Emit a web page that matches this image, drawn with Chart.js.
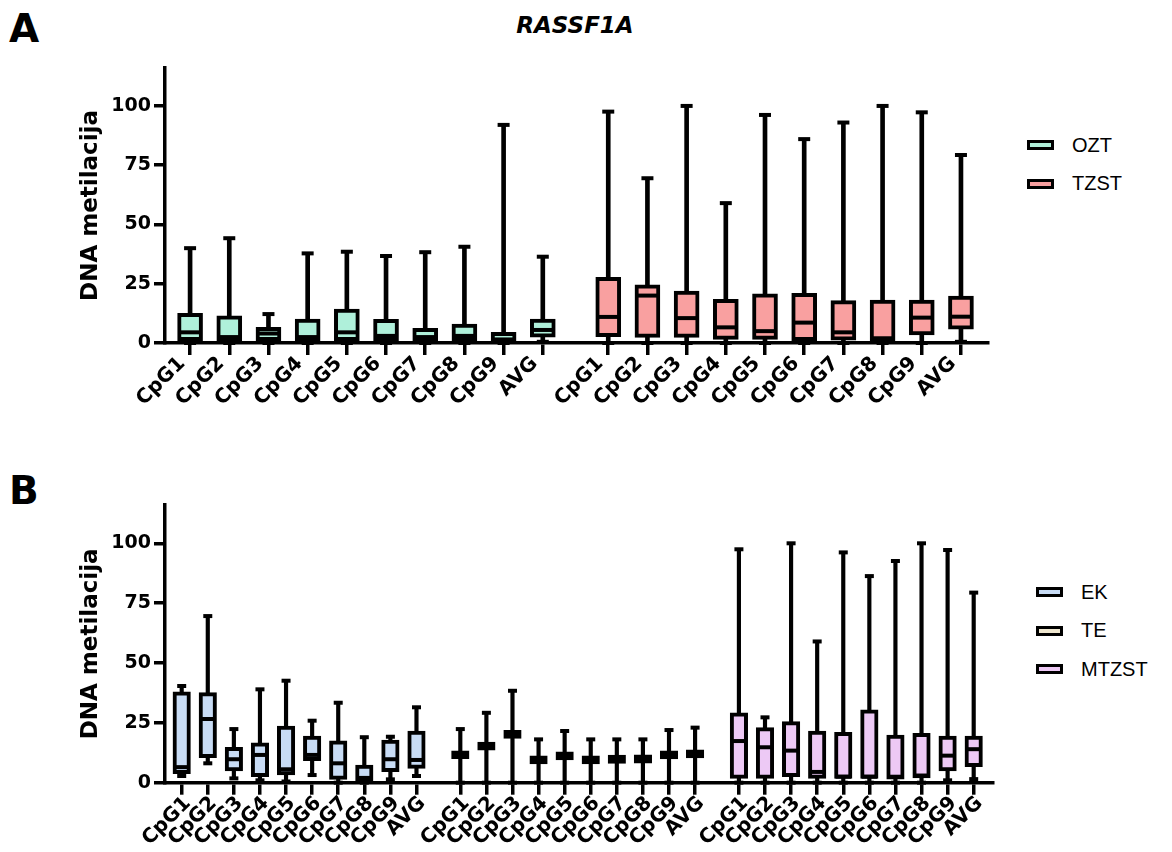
<!DOCTYPE html>
<html>
<head>
<meta charset="utf-8">
<script src="https://cdn.jsdelivr.net/npm/chart.js@4.4.0/dist/chart.umd.min.js"></script>
<style>
  body { margin: 0; background: #fff; width: 1172px; height: 852px; position: relative; overflow: hidden;
         font-family: "Liberation Sans", Arial, sans-serif; color: #000; }
  .wrap { position: absolute; left: 0; width: 1010px; }
  #wrapA { top: 0; height: 430px; }
  #wrapB { top: 430px; height: 422px; }
  .letter { position: absolute; left: 9px; font-family: "DejaVu Sans", sans-serif; font-weight: bold; font-size: 39px; }
  #title { position: absolute; left: 475px; top: 12px; width: 200px; text-align: center;
           font-family: "DejaVu Sans", sans-serif; font-weight: bold; font-style: italic; font-size: 23px; }
  .legend { position: absolute; }
  .item { display: flex; align-items: center; height: 38.5px; font-size: 20px; }
  .swatch { width: 21px; height: 4px; border: 3.5px solid #000; margin-right: 18px; }
</style>
</head>
<body>
<div class="letter" style="top:6px">A</div>
<div class="letter" style="top:468px">B</div>
<div id="title">RASSF1A</div>
<div class="wrap" id="wrapA"><canvas id="chartA"></canvas></div>
<div class="wrap" id="wrapB"><canvas id="chartB"></canvas></div>
<div class="legend" id="legendA" style="left:1027px; top:126px"></div>
<div class="legend" id="legendB" style="left:1036px; top:573px"></div>
<script>
// categories (same for every group)
const cpgLabels = ['CpG1', 'CpG2', 'CpG3', 'CpG4', 'CpG5', 'CpG6', 'CpG7', 'CpG8', 'CpG9', 'AVG'];
const yTicks = [0, 25, 50, 75, 100];

// Panel A - OZT (min, Q1, median, Q3, max)
const oztMin = [0, 0, 0, 0, 0, 0, 0, 0, 0, 0.5];
const oztQ1  = [1, 1, 1, 1, 1, 1, 0.5, 1, 0.5, 2.5];
const oztMed = [4.5, 2.5, 4, 2.5, 4.5, 3, 2.5, 3, 1.5, 5.5];
const oztQ3  = [12.5, 11.5, 6.6, 10.1, 14.3, 10, 6.2, 8, 4.5, 10.1];
const oztMax = [40, 44.2, 12.2, 37.8, 38.5, 36.7, 38.3, 40.6, 92, 36.4];

// Panel A - TZST
const tzstMin = [0, 0, 0, 0, 0, 0, 0, 0, 0, 0.5];
const tzstQ1  = [2.7, 2.4, 2.4, 1.5, 1.5, 1, 1.2, 1, 3.4, 5.8];
const tzstMed = [11, 20, 10.5, 6.6, 5, 8.6, 4.5, 2, 10.7, 11.1];
const tzstQ3  = [27.7, 24.5, 21.9, 18.4, 20.7, 21, 17.9, 18.1, 18.1, 19.8];
const tzstMax = [97.6, 69.5, 100, 59, 96.2, 86, 93, 100, 97.3, 79.3];

// Panel B - EK
const ekMin = [2.8, 8.1, 1.8, 1, 0.5, 3.2, 0, 0, 1.4, 2.8];
const ekQ1  = [3.8, 10.5, 4.9, 2.5, 3.2, 9.2, 1.4, 0.5, 4.6, 6];
const ekMed = [6.5, 26.6, 9.8, 11.6, 5.6, 11.6, 8.1, 2, 9.8, 9.5];
const ekQ3  = [38, 37.6, 14.8, 16.7, 23.7, 19.5, 17.5, 7.4, 17.8, 21.6];
const ekMax = [40.4, 69.6, 22.4, 39, 42.6, 25.9, 33.4, 19, 19.2, 31.5];

// Panel B - TE
const teMin = [0, 0, 0, 0, 0, 0, 0, 0, 0, 0];
const teQ1  = [10, 13.6, 18.5, 7.8, 9.5, 7.8, 8.1, 8.2, 9.9, 10.3];
const teMed = [11.6, 15.3, 20.2, 9.5, 11.2, 9.5, 9.8, 9.9, 11.6, 12];
const teQ3  = [13.3, 17, 21.9, 11.2, 12.9, 11.2, 11.5, 11.6, 13.3, 13.7];
const teMax = [22.4, 29.2, 38.4, 18.1, 21.6, 18.1, 18.1, 18.1, 22, 23];

// Panel B - MTZST
const mtzstMin = [0, 0, 0, 0, 0, 0, 0, 0, 1, 1.5];
const mtzstQ1  = [1.8, 1.8, 2.5, 1.8, 1.8, 1.8, 1.5, 2, 4.9, 6.7];
const mtzstMed = [17.4, 14.8, 13.4, 4.5, 2.5, 2.5, 2.5, 3, 11.3, 14];
const mtzstQ3  = [29.2, 23, 25.5, 21.6, 21, 30.4, 19.9, 20.6, 19.5, 19.5];
const mtzstMax = [97.5, 27.3, 100, 59, 96.2, 86.3, 92.6, 100, 97.2, 79.4];

const tickFont = { family: 'DejaVu Sans', weight: 'bold', size: 19 };
const xFont = { family: 'DejaVu Sans', weight: 'bold', size: 20 };

// x position of each box: groups of 10 separated by a gap
function groupPositions(group, gap) {
    return cpgLabels.map((_, i) => group * (cpgLabels.length + gap) + i + 1);
}

// one box plot series = box (floating bar), whisker (thin bar), caps and median (line points)
function boxSeries(label, color, xs, mins, q1s, meds, q3s, maxs, sz) {
    return [
        {
            type: 'bar', label: label, order: 2, grouped: false, clip: false,
            data: xs.map((x, i) => ({ x: x, y: [q1s[i], q3s[i]] })),
            backgroundColor: color, borderColor: '#000', borderWidth: 4, borderSkipped: false,
            barThickness: sz.box
        },
        {
            type: 'bar', label: '', order: 3, grouped: false, clip: false,
            data: xs.map((x, i) => ({ x: x, y: [mins[i], maxs[i]] })),
            backgroundColor: '#000', barThickness: sz.whisker
        },
        {
            type: 'scatter', label: '', order: 1, clip: false,
            data: xs.flatMap((x, i) => [{ x: x, y: mins[i] }, { x: x, y: maxs[i] }]),
            pointStyle: 'line', pointRadius: sz.cap / 2, pointHoverRadius: sz.cap / 2,
            pointBorderColor: '#000', pointBorderWidth: 4, pointHoverBorderWidth: 4
        },
        {
            type: 'scatter', label: '', order: 1, clip: false,
            data: xs.map((x, i) => ({ x: x, y: meds[i] })),
            pointStyle: 'line', pointRadius: sz.box / 2 - 1, pointHoverRadius: sz.box / 2 - 1,
            pointBorderColor: '#000', pointBorderWidth: 4, pointHoverBorderWidth: 4
        }
    ];
}

function makeChart(id, datasets, xs, xMin, xMax, pad, xHeight, labelShift) {
    const labels = xs.map((_, i) => cpgLabels[i % cpgLabels.length]);
    return new Chart(document.getElementById(id), {
        type: 'bar',
        data: { datasets: datasets },
        options: {
            responsive: true,
            maintainAspectRatio: false,
            animation: false,
            events: [],
            layout: { padding: pad },
            plugins: { legend: { display: false }, tooltip: { enabled: false } },
            scales: {
                x: {
                    type: 'linear', min: xMin, max: xMax, offset: false,
                    afterBuildTicks: s => { s.ticks = xs.map(v => ({ value: v })); },
                    afterFit: s => { s.height = xHeight; },
                    border: { color: '#000', width: 3.5 },
                    grid: { offset: false, drawOnChartArea: false, color: '#000', lineWidth: 3.5, tickLength: 12 },
                    ticks: {
                        autoSkip: false, minRotation: 45, maxRotation: 45, padding: -3,
                        labelOffset: labelShift,
                        color: '#000', font: xFont,
                        callback: (v, i) => labels[i]
                    }
                },
                y: {
                    min: 0, max: 116,
                    afterBuildTicks: s => { s.ticks = yTicks.map(v => ({ value: v })); },
                    afterFit: s => { s.width = 165; },
                    border: { color: '#000', width: 3.5 },
                    grid: { drawOnChartArea: false, color: '#000', lineWidth: 3.5, tickLength: 11 },
                    ticks: { color: '#000', font: tickFont, padding: 3 },
                    title: {
                        display: true, text: 'DNA metilacija', color: '#000',
                        font: { family: 'DejaVu Sans', weight: 'bold', size: 23 },
                        padding: { top: 77, bottom: 0 }
                    }
                }
            }
        }
    });
}

function buildLegend(id, items) {
    const el = document.getElementById(id);
    items.forEach(([name, color]) => {
        const row = document.createElement('div');
        row.className = 'item';
        const sw = document.createElement('div');
        sw.className = 'swatch';
        sw.style.background = color;
        const tx = document.createElement('span');
        tx.textContent = name;
        row.appendChild(sw);
        row.appendChild(tx);
        el.appendChild(row);
    });
}

const colors = { OZT: '#aff0da', TZST: '#f9a0a0', EK: '#c8dcf5', TE: '#efe7cf', MTZST: '#edc9f5' };

// Panel A
const gapA = 0.67;
const xOzt = groupPositions(0, gapA);
const xTzst = groupPositions(1, gapA);
const sizeA = { box: 25, whisker: 4, cap: 12 };
makeChart('chartA', [
    ...boxSeries('OZT', colors.OZT, xOzt, oztMin, oztQ1, oztMed, oztQ3, oztMax, sizeA),
    ...boxSeries('TZST', colors.TZST, xTzst, tzstMin, tzstQ1, tzstMed, tzstQ3, tzstMax, sizeA)
], xOzt.concat(xTzst), 0.36, 21.36, { top: 68, right: 22, left: 0, bottom: 0 }, 87, -8);

// Panel B
const gapB = 0.68;
const xEk = groupPositions(0, gapB);
const xTe = groupPositions(1, gapB);
const xMtzst = groupPositions(2, gapB);
const sizeB = { box: 17.5, whisker: 3.5, cap: 9 };
makeChart('chartB', [
    ...boxSeries('EK', colors.EK, xEk, ekMin, ekQ1, ekMed, ekQ3, ekMax, sizeB),
    ...boxSeries('TE', colors.TE, xTe, teMin, teQ1, teMed, teQ3, teMax, sizeB),
    ...boxSeries('MTZST', colors.MTZST, xMtzst, mtzstMin, mtzstQ1, mtzstMed, mtzstQ3, mtzstMax, sizeB)
], xEk.concat(xTe, xMtzst), 0.36, 32.1, { top: 75, right: 17, left: 0, bottom: 0 }, 69.3, 6);

buildLegend('legendA', [['OZT', colors.OZT], ['TZST', colors.TZST]]);
buildLegend('legendB', [['EK', colors.EK], ['TE', colors.TE], ['MTZST', colors.MTZST]]);
</script>
</body>
</html>
